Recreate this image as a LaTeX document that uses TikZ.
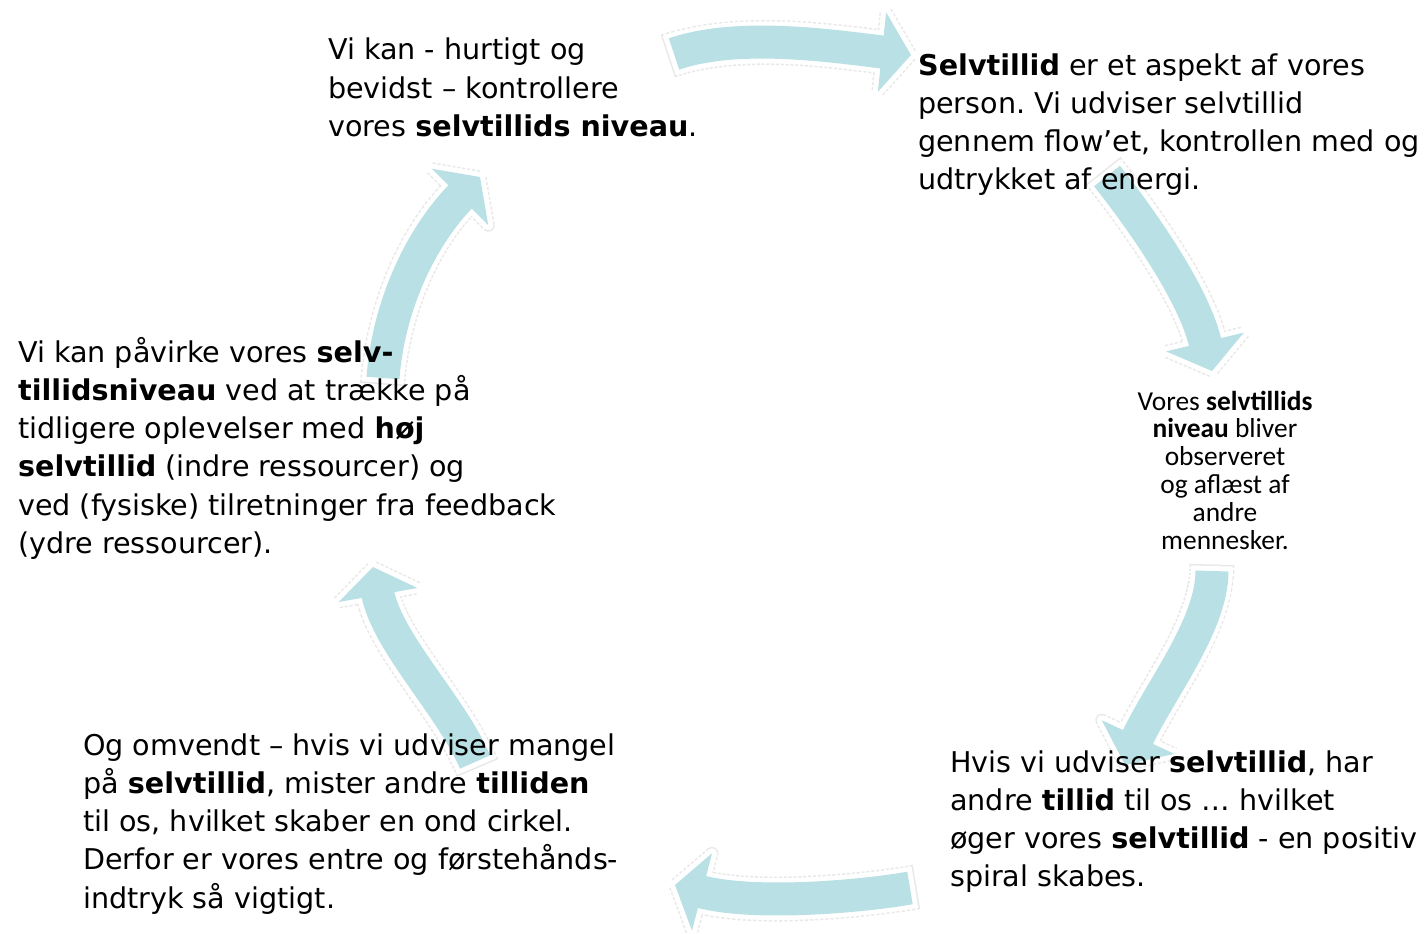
\documentclass[tikz,border=0pt]{standalone}
\usepackage{fontspec}
\setmainfont{DejaVu Sans}
\newfontfamily\smallfont{Carlito}
\usetikzlibrary{calc}
\frenchspacing
\definecolor{arrowteal}{RGB}{185,224,228}
\definecolor{glowgray}{RGB}{232,232,232}
\tikzset{
  txt/.style={font=\fontsize{28.6}{38.3}\selectfont, align=left, inner sep=0pt, anchor=base west, text=black},
  smalltxt/.style={font={\smallfont\fontsize{27.4}{27.8}\selectfont}, align=center, inner sep=0pt, anchor=base, text=black},
  bodyglow/.style={draw=glowgray, line width=45pt, dash pattern=on 3pt off 2pt, shorten <=-6.5pt},
  bodyhalo/.style={draw=white, line width=42pt, shorten <=-5pt},
  bodyfill/.style={draw=arrowteal, line width=33pt, shorten >=-2pt},
  headglow/.style={draw=glowgray, line width=13pt, dash pattern=on 3pt off 2pt, line join=round},
  headhalo/.style={draw=white, fill=white, line width=10pt, line join=round},
  headfill/.style={fill=arrowteal},
}
\newcommand\cyclearrow[1]{%
  \draw[bodyglow] (#1s) .. controls (#1a) and (#1b) .. (#1e);
  \draw[headglow] ($(#1e)!40pt!90:(#1t)$) -- (#1t) -- ($(#1e)!40pt!-90:(#1t)$) -- cycle;
  \draw[bodyhalo] (#1s) .. controls (#1a) and (#1b) .. (#1e);
  \filldraw[headhalo] ($(#1e)!40pt!90:(#1t)$) -- (#1t) -- ($(#1e)!40pt!-90:(#1t)$) -- cycle;
  \draw[bodyfill] (#1s) .. controls (#1a) and (#1b) .. (#1e);
  \fill[headfill] ($(#1e)!40pt!90:(#1t)$) -- (#1t) -- ($(#1e)!40pt!-90:(#1t)$) -- cycle;
}
\begin{document}
\begin{tikzpicture}[x=1pt,y=-1pt]
\fill[white] (0,0) rectangle (1428,934);
\useasboundingbox (0,0) rectangle (1428,934);

% arrow 1 (top)
\coordinate (p1s) at (674,54);
\coordinate (p1a) at (738,32);
\coordinate (p1b) at (832,46);
\coordinate (p1e) at (882,52);
\coordinate (p1t) at (911,55);
% arrow 2 (upper right)
\coordinate (p2s) at (1107,176);
\coordinate (p2a) at (1138,215);
\coordinate (p2b) at (1194,293);
\coordinate (p2e) at (1205,342);
\coordinate (p2t) at (1212,371);
% arrow 3 (lower right)
\coordinate (p3s) at (1212,571);
\coordinate (p3a) at (1212,625);
\coordinate (p3b) at (1160,690);
\coordinate (p3e) at (1138,737);
\coordinate (p3t) at (1125,765);
% arrow 4 (bottom)
\coordinate (p4s) at (910,888);
\coordinate (p4a) at (851,898);
\coordinate (p4b) at (750,905);
\coordinate (p4e) at (702,892);
\coordinate (p4t) at (675,885);
% arrow 5 (lower left)
\coordinate (p5s) at (475,762);
\coordinate (p5a) at (452,707);
\coordinate (p5b) at (388,644);
\coordinate (p5e) at (378,595);
\coordinate (p5t) at (373,567);
% arrow 6 (upper left)
\coordinate (p6s) at (383,378);
\coordinate (p6a) at (388,310);
\coordinate (p6b) at (418,240);
\coordinate (p6e) at (460,197);
\coordinate (p6t) at (480,177);

\cyclearrow{p1}
\cyclearrow{p2}
\cyclearrow{p3}
\cyclearrow{p4}
\cyclearrow{p5}
\cyclearrow{p6}

\node[txt] (b1) at (328,136.6) {Vi kan - hurtigt og\\bevidst – kontrollere\\vores \textbf{selvtillids niveau}.};
\node[txt] (b2) at (918,189.9) {\textbf{Selvtillid} er et aspekt af vores\\person. Vi udviser selvtillid\\gennem flow’et, kontrollen med og\\udtrykket af energi.};
\node[smalltxt] (b3) at (1225,549) {Vores \textbf{selvtillids}\\\textbf{niveau} bliver\\observeret\\og aflæst af\\andre\\mennesker.};
\node[txt] (b4) at (950,886.9) {Hvis vi udviser \textbf{selvtillid}, har\\andre \textbf{tillid} til os … hvilket\\øger vores \textbf{selvtillid} - en positiv\\spiral skabes.};
\node[txt] (b5) at (83,908.2) {Og omvendt – hvis vi udviser mangel\\på \textbf{selvtillid}, mister andre \textbf{tilliden}\\til os, hvilket skaber en ond cirkel.\\Derfor er vores entre og førstehånds-\\indtryk så vigtigt.};
\node[txt] (b6) at (18,553.5) {Vi kan påvirke vores \textbf{selv-}\\\textbf{tillidsniveau} ved at trække på\\tidligere oplevelser med \textbf{høj}\\\textbf{selvtillid} (indre ressourcer) og\\ved (fysiske) tilretninger fra feedback\\(ydre ressourcer).};
\end{tikzpicture}
\end{document}
